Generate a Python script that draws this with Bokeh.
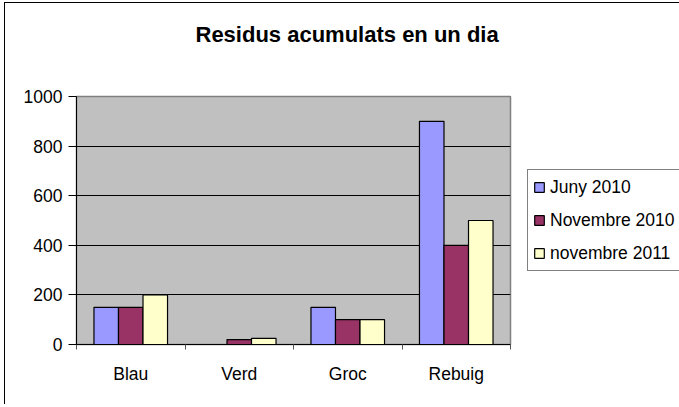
from bokeh.plotting import figure
from bokeh.models import FixedTicker, Legend, LegendItem, Range1d, ColumnDataSource, Title
from bokeh.transform import dodge
from bokeh.embed import file_html
from bokeh.resources import INLINE

# ---- data ----
cats = ["Blau", "Verd", "Groc", "Rebuig"]
series = ["Juny 2010", "Novembre 2010", "novembre 2011"]
juny_2010 = [150, 0, 150, 900]
novembre_2010 = [150, 20, 100, 400]
novembre_2011 = [200, 25, 100, 500]
y_ticks = [0, 200, 400, 600, 800, 1000]
title_text = "Residus acumulats en un dia"

colors = ["#9999FF", "#993366", "#FFFFCC"]
FONT = "Liberation Sans"
bar_w = 0.226

x_center = [i + 0.5 for i in range(len(cats))]
source = ColumnDataSource(dict(x=x_center, s0=juny_2010, s1=novembre_2010, s2=novembre_2011))

p = figure(
    frame_width=434, frame_height=248,
    min_border_left=71, min_border_top=93, min_border_right=168, min_border_bottom=60,
    x_range=Range1d(0, len(cats)), y_range=Range1d(0, 1000),
    output_backend="svg", toolbar_location=None,
)
p.background_fill_color = "#C0C0C0"
p.border_fill_color = "white"
p.outline_line_color = "#808080"
p.outline_line_width = 1.5
p.styles = {"margin-left": "4px", "margin-top": "2px",
            "border-left": "1.5px solid black", "border-top": "1.5px solid black"}

# spacer between the frame and the title (closest to the frame)
spacer = Title(text=" ", text_font=FONT, text_font_size="22px", standoff=21)
p.add_layout(spacer, "above")

p.title.text = title_text
p.title.text_font = FONT
p.title.text_font_size = "22px"
p.title.text_font_style = "bold"
p.title.text_color = "black"
p.title.align = "left"
p.title.offset = 119
p.title.vertical_align = "top"
p.title.standoff = 0

renderers = []
for j, key in enumerate(["s0", "s1", "s2"]):
    r = p.vbar(x=dodge("x", (j - 1) * bar_w, range=p.x_range), top=key, width=bar_w,
               bottom=0, source=source, fill_color=colors[j], line_color="black", line_width=1.2)
    renderers.append(r)

# x axis: category labels at centers, tick marks at boundaries
xa = p.xaxis[0]
xa.ticker = FixedTicker(ticks=x_center, minor_ticks=list(range(len(cats) + 1)))
xa.major_label_overrides = {x: c for x, c in zip(x_center, cats)}
xa.major_tick_out = 0
xa.major_tick_in = 0
xa.minor_tick_out = 5
xa.minor_tick_in = 0
xa.minor_tick_line_color = "#555555"
xa.axis_line_color = "black"
xa.major_label_text_font = FONT
xa.major_label_text_font_size = "17.5px"
xa.major_label_text_color = "black"
xa.major_label_standoff = 14

ya = p.yaxis[0]
ya.ticker = FixedTicker(ticks=y_ticks)
ya.major_tick_out = 8
ya.major_tick_in = 0
ya.minor_tick_out = 0
ya.minor_tick_in = 0
ya.axis_line_color = "black"
ya.major_label_text_font = FONT
ya.major_label_text_font_size = "17.5px"
ya.major_label_text_color = "black"
ya.major_label_standoff = 6

p.xgrid.grid_line_color = None
p.ygrid.grid_line_color = "black"
p.ygrid.grid_line_width = 1

legend = Legend(
    items=[LegendItem(label=series[j], renderers=[renderers[j]]) for j in range(3)],
    location=(17, 73),
    label_text_font=FONT, label_text_font_size="17.5px", label_text_color="black",
    glyph_width=12, glyph_height=12, label_height=24, spacing=9, padding=5,
    label_standoff=5, margin=0,
    border_line_color="black", border_line_width=1,
    background_fill_color="white", background_fill_alpha=1.0,
)
p.add_layout(legend, "right")

open("out.html", "w").write(file_html(p, INLINE))
